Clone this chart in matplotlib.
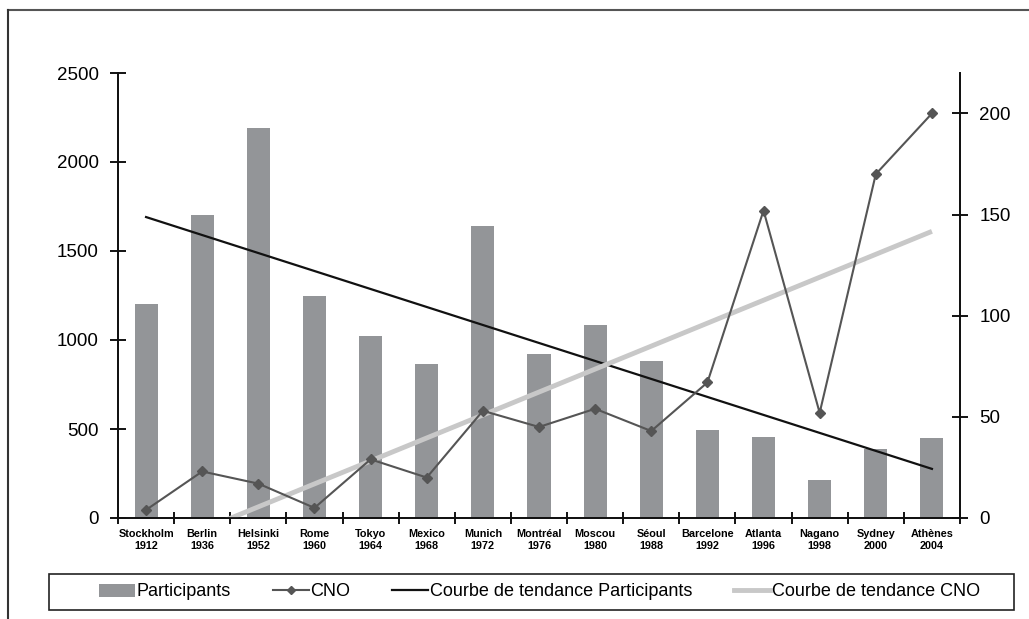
import matplotlib
matplotlib.use('Agg')
import matplotlib.pyplot as plt
from matplotlib.lines import Line2D
from matplotlib.patches import Patch, Rectangle
import numpy as np

plt.rcParams['font.family'] = ['Liberation Sans', 'DejaVu Sans']

# data
villes = ['Stockholm', 'Berlin', 'Helsinki', 'Rome', 'Tokyo', 'Mexico', 'Munich',
          'Montréal', 'Moscou', 'Séoul', 'Barcelone', 'Atlanta', 'Nagano',
          'Sydney', 'Athènes']
annees = ['1912', '1936', '1952', '1960', '1964', '1968', '1972', '1976',
          '1980', '1988', '1992', '1996', '1998', '2000', '2004']
participants = [1200, 1700, 2190, 1250, 1020, 865, 1640, 920, 1085, 880,
                495, 455, 215, 385, 450]
cno = [4, 23, 17, 5, 29, 20, 53, 45, 54, 43, 67, 152, 52, 170, 200]

labels = [f'{v}\n{a}' for v, a in zip(villes, annees)]
x = np.arange(len(villes))

fig = plt.figure(figsize=(10.29, 6.19), dpi=100)
ax = fig.add_axes([118/1029, 1-518/619, (960-118)/1029, (518-73)/619])
ax2 = ax.twinx()

BAR = '#939598'
ax.bar(x, participants, width=0.41, color=BAR, zorder=2)

# trend lines (linear fit, like the spreadsheet)
p_fit = np.polyfit(x + 1, participants, 1)
c_fit = np.polyfit(x + 1, cno, 1)
ax.plot(x, np.polyval(p_fit, x + 1), color='#111111', lw=1.6, zorder=3)
ax2.plot(x, np.polyval(c_fit, x + 1), color='#c8c8c8', lw=3.5, zorder=2,
         solid_capstyle='butt')
ax2.plot(x, cno, color='#555555', lw=1.5, marker='D', markersize=5.5,
         markerfacecolor='#555555', markeredgecolor='#555555', zorder=4)

ax.set_xlim(-0.5, len(villes) - 0.5)
ax.set_ylim(0, 2500)
ax.set_yticks(range(0, 2501, 500))
ax2.set_ylim(0, 220)
ax2.set_yticks(range(0, 201, 50))

ax.set_xticks(x)
ax.set_xticklabels(labels, fontsize=7.8, fontweight='bold', linespacing=1.25)
ax.set_xticks(np.arange(-0.5, len(villes), 1), minor=True)
ax.tick_params(axis='x', which='major', length=0, pad=8)
ax.tick_params(axis='x', which='minor', direction='inout', length=9, width=1.3)
ax.tick_params(axis='y', direction='inout', length=12, width=1.3,
               labelsize=13.5, pad=8)
ax2.tick_params(axis='y', direction='inout', length=12, width=1.3,
                labelsize=13.5, pad=8)

for a in (ax, ax2):
    a.spines['top'].set_visible(False)
    for s in ('left', 'right', 'bottom'):
        a.spines[s].set_linewidth(1.3)
        a.spines[s].set_color('#111111')

# outer frame (top and left edges visible)
fig.add_artist(Line2D([8/1029, 1], [1-10/619, 1-10/619], color='#555555',
                      lw=1.5, transform=fig.transFigure))
fig.add_artist(Line2D([8/1029, 8/1029], [0, 1-10/619], color='#333333',
                      lw=1.5, transform=fig.transFigure))

# legend box
fig.add_artist(Rectangle((49/1029, 1-610/619), (1014-49)/1029, 36/619,
                         transform=fig.transFigure, facecolor='white',
                         edgecolor='#222222', lw=1.2))
handles = [
    Patch(facecolor=BAR, edgecolor='none'),
    Line2D([], [], color='#555555', lw=1.5, marker='D', markersize=4),
    Line2D([], [], color='#111111', lw=1.6),
    Line2D([], [], color='#c8c8c8', lw=3.5),
]
names = ['Participants', 'CNO', 'Courbe de tendance Participants',
         'Courbe de tendance CNO']
fig.legend(handles, names, loc='center', ncol=4, fontsize=13,
           bbox_to_anchor=((49+1014)/2/1029 + 8/1029, 1-592/619),
           frameon=False, handlelength=2.0, handletextpad=0.1,
           borderaxespad=0, columnspacing=2.3)

fig.savefig('out.png', dpi=100, facecolor='white')
